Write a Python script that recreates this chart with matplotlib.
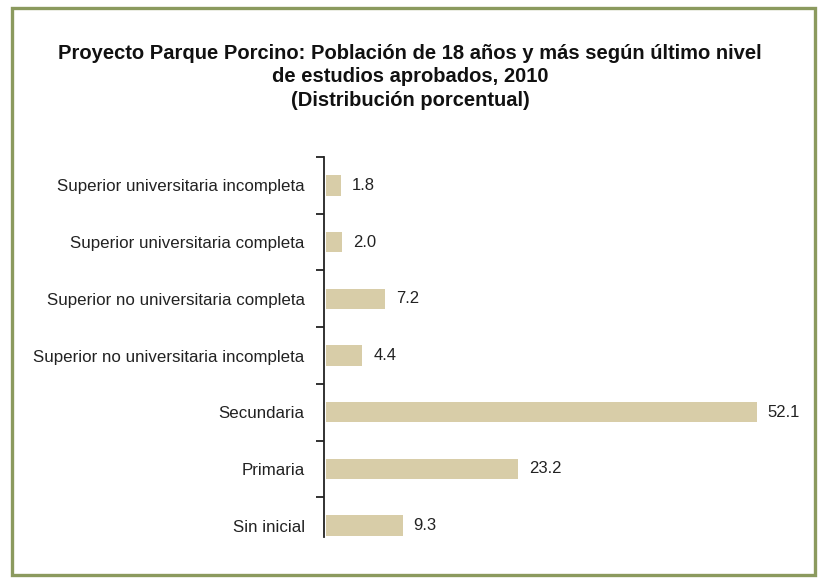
import matplotlib.pyplot as plt
from matplotlib.patches import Rectangle

plt.rcParams['font.family'] = ['Liberation Sans', 'DejaVu Sans']

# Data (bottom to top)
categorias = [
    "Sin inicial",
    "Primaria",
    "Secundaria",
    "Superior no universitaria incompleta",
    "Superior no universitaria completa",
    "Superior universitaria completa",
    "Superior universitaria incompleta",
]
valores = [9.3, 23.2, 52.1, 4.4, 7.2, 2.0, 1.8]

titulo = ("Proyecto Parque Porcino: Población de 18 años y más según último nivel\n"
          "de estudios aprobados, 2010\n"
          "(Distribución porcentual)")

W, H = 821, 583
fig = plt.figure(figsize=(W / 100, H / 100), dpi=100)

# Outer green frame
fig.patches.append(Rectangle((12 / W, 8 / H), (815 - 12) / W, (575 - 8) / H,
                             transform=fig.transFigure, fill=False,
                             edgecolor="#8b9a5e", linewidth=2.4))

fig.text(410 / W, 1 - 77 / H, titulo, ha="center", va="center",
         fontsize=14.5, fontweight="bold", linespacing=1.3, color="#111111")

# Axes box in pixel coordinates
left, right, top, bottom = 324, 790, 157, 537
ax = fig.add_axes([left / W, 1 - bottom / H, (right - left) / W, (bottom - top) / H])

pos = list(range(len(categorias)))
ax.barh(pos, valores, height=0.36, left=0.2, color="#d8cda8")
for p, v in zip(pos, valores):
    ax.annotate(f"{v:.1f}", xy=(v + 0.2, p), xytext=(8, 0), textcoords="offset points",
                ha="left", va="center", fontsize=12, color="#222222")

ax.set_xlim(0, (right - left) / 8.27)
ax.set_ylim(-0.2, 6.5)

for s in ["top", "right", "bottom"]:
    ax.spines[s].set_visible(False)
ax.spines["left"].set_linewidth(1.3)
ax.spines["left"].set_color("#222222")

ax.set_xticks([])
ax.set_yticks(pos)
ax.set_yticklabels(categorias, fontsize=12.2, color="#222222")
ax.tick_params(axis="y", which="major", length=0, pad=14)
ax.set_yticks([p + 0.5 for p in pos], minor=True)
ax.tick_params(axis="y", which="minor", length=6, width=1.3, color="#222222")

fig.savefig("out.png", dpi=100)
